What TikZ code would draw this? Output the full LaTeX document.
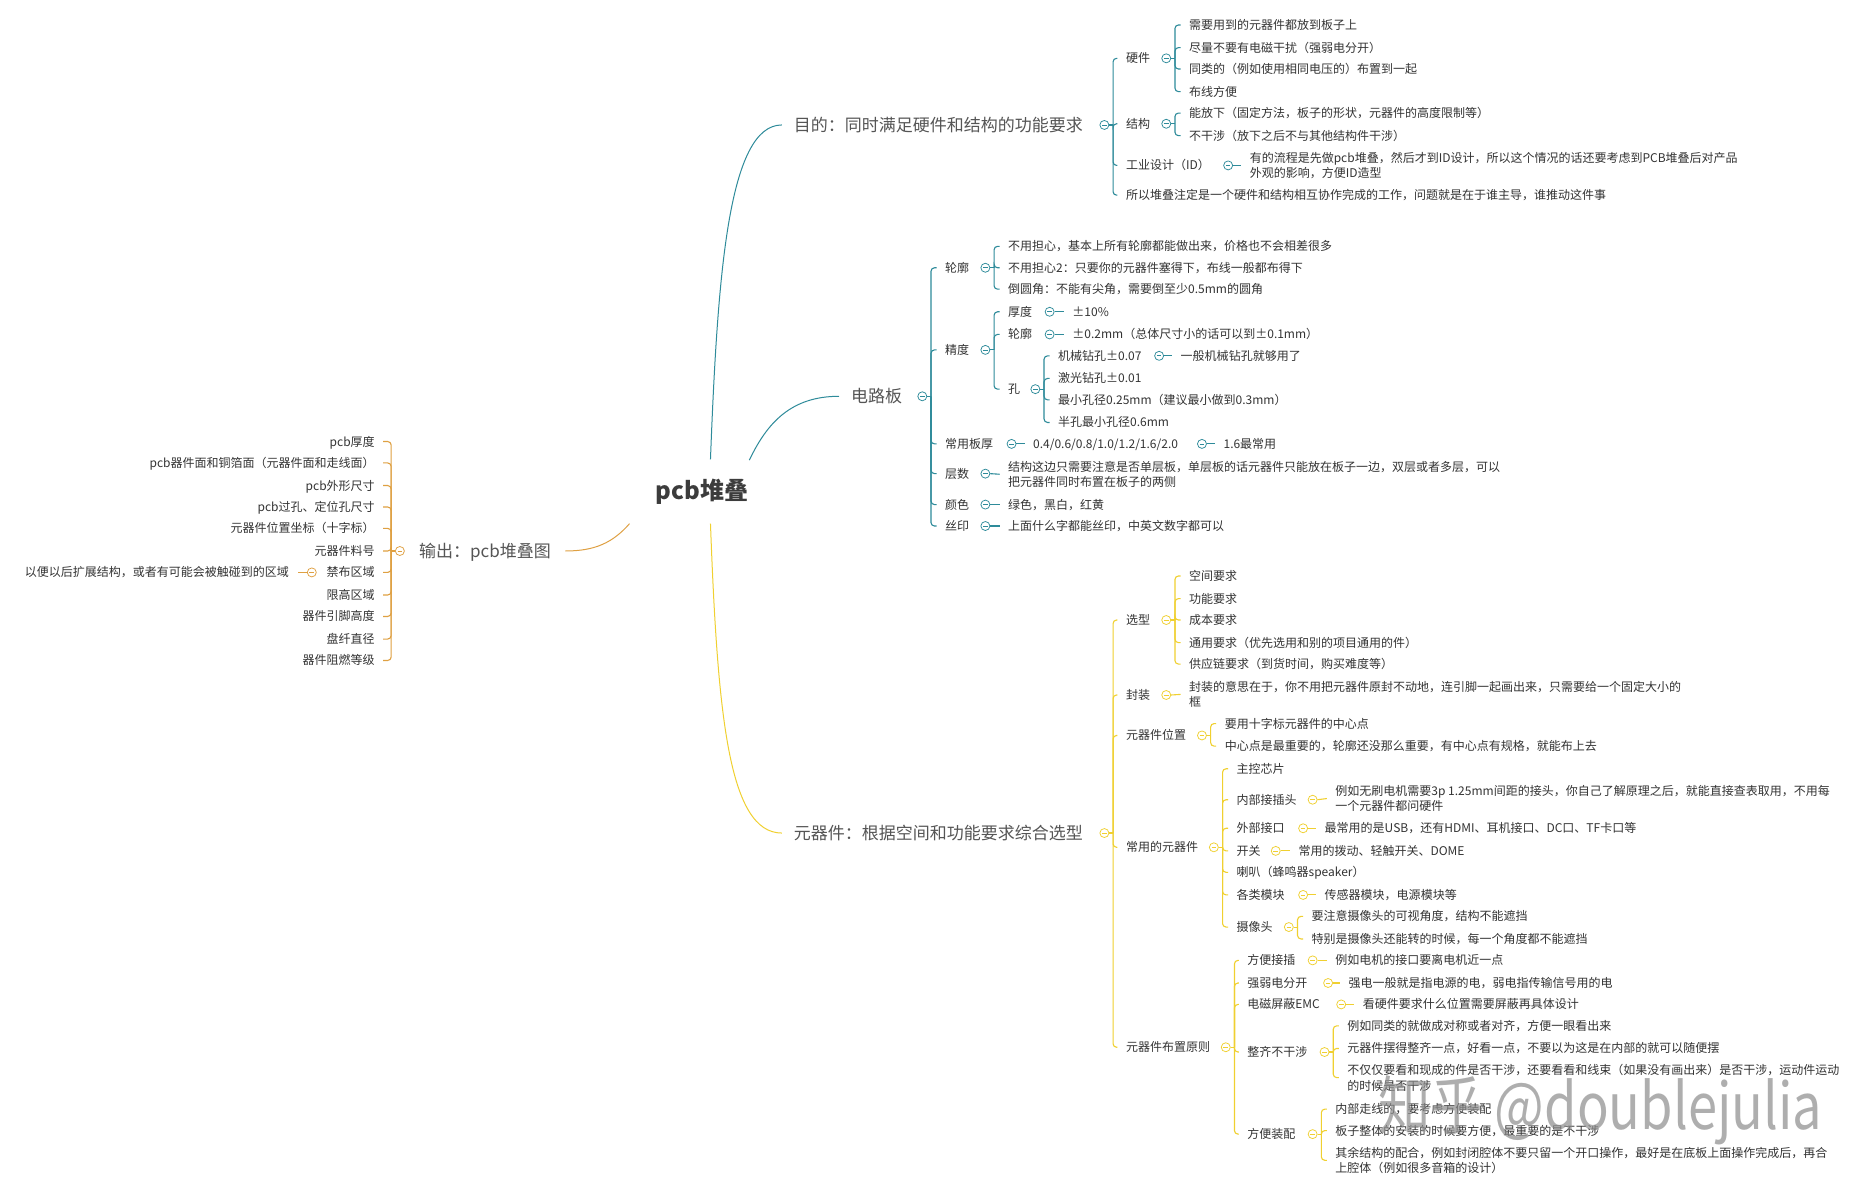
\documentclass[tikz,border=0pt]{standalone}
\usepackage{fontspec}
\setmainfont{Noto Sans CJK SC}
\usetikzlibrary{calc}
\definecolor{tealc}{HTML}{2E8B9A}
\definecolor{orgc}{HTML}{DFA042}
\definecolor{yelc}{HTML}{F0D030}
\definecolor{txtc}{HTML}{333333}
\definecolor{bigc}{HTML}{555555}
\definecolor{rootc}{HTML}{3C3C3C}
\tikzset{
  lf/.style={anchor=west, inner sep=0pt, text=txtc, font=\fontsize{12}{15.5}\selectfont, text height=10.5pt, text depth=1.5pt},
  ml/.style={anchor=west, inner sep=0pt, text=txtc, font=\fontsize{12}{15.5}\selectfont, align=left},
  lfr/.style={lf, anchor=east},
  big/.style={anchor=west, inner sep=0pt, text=bigc, font=\fontsize{17}{20}\selectfont, text height=15pt, text depth=2pt},
  col/.style={circle, draw=#1, fill=white, line width=0.75pt, minimum size=9pt, inner sep=0pt,
    path picture={\draw[#1, line width=0.75pt] ([xshift=-2.3pt]path picture bounding box.center) -- ([xshift=2.3pt]path picture bounding box.center);}},
  ln/.style={draw=#1, line width=1.1pt},
  cv/.style={draw=#1, line width=1pt},
}
\newcommand{\ckid}[3]{%
  \draw[ln=#1] (#2.east) -- ++(3.2,0);
  \draw[ln=#1, rounded corners=3.5pt] ($(#2.east)+(3.2,0)$) |- ($(#3.west)+(-7,0)$);}
\newcommand{\ckidl}[3]{%
  \draw[ln=#1] (#2.west) -- ++(-3.2,0);
  \draw[ln=#1, rounded corners=3.5pt] ($(#2.west)+(-3.2,0)$) |- ($(#3.east)+(7,0)$);}
\newcommand{\cone}[3]{\draw[ln=#1] (#2.east) -- ($(#3.west)+(-7,0)$);}
\newcommand{\conel}[3]{\draw[ln=#1] (#2.west) -- ($(#3.east)+(7,0)$);}
\begin{document}
\begin{tikzpicture}[x=1.19pt, y=-1.19pt]
\fill[white] (0,0) rectangle (1568,1004);
\useasboundingbox (0,0) rectangle (1568,1004);

% root
\node[font=\fontsize{24}{28}\selectfont\bfseries, text=rootc, inner sep=0pt] (root) at (590,413) {pcb堆叠};

% main labels
\node[big] (m1) at (667,105) {目的：同时满足硬件和结构的功能要求};
\node[big] (m2) at (715,333) {电路板};
\node[big, anchor=east] (m3) at (463,463) {输出：pcb堆叠图};
\node[big] (m4) at (667,700) {元器件：根据空间和功能要求综合选型};

\draw[cv=tealc] ($(root)+(7,-27)$) .. controls +(6,-156) and +(-45,0) .. ($(m1.west)+(-10,0)$);
\draw[cv=tealc] ($(root)+(39.7,-26.4)$) .. controls +(15,-31.6) and +(-40,0) .. ($(m2.west)+(-10,0)$);
\draw[cv=orgc] ($(root)+(-61,27)$) .. controls +(-14,16) and +(25,0) .. ($(m3.east)+(12,0)$);
\draw[cv=yelc] ($(root)+(7,27)$) .. controls +(6,160) and +(-45,0) .. ($(m4.west)+(-10,0)$);

% ===== branch 1: 目的 =====
\node[col=tealc] (c1) at (928,105) {};
\node[lf] (a1) at (946,49) {硬件};
\node[lf] (a2) at (946,104) {结构};
\node[lf] (a3) at (946,139) {工业设计（ID）};
\node[lf] (a4) at (946,164) {所以堆叠注定是一个硬件和结构相互协作完成的工作，问题就是在于谁主导，谁推动这件事};
\node[col=tealc] (ca1) at (980,49) {};
\node[lf] (a11) at (999,21) {需要用到的元器件都放到板子上};
\node[lf] (a12) at (999,40) {尽量不要有电磁干扰（强弱电分开）};
\node[lf] (a13) at (999,58) {同类的（例如使用相同电压的）布置到一起};
\node[lf] (a14) at (999,77) {布线方便};
\node[col=tealc] (ca2) at (980,104) {};
\node[lf] (a21) at (999,95) {能放下（固定方法，板子的形状，元器件的高度限制等）};
\node[lf] (a22) at (999,114) {不干涉（放下之后不与其他结构件干涉）};
\node[col=tealc] (ca3) at (1032,139) {};
\node[ml] (a31) at (1050,139) {有的流程是先做pcb堆叠，然后才到ID设计，所以这个情况的话还要考虑到PCB堆叠后对产品\\外观的影响，方便ID造型};
\foreach \k in {a1,a2,a3,a4} {\ckid{tealc}{c1}{\k}}
\foreach \k in {a11,a12,a13,a14} {\ckid{tealc}{ca1}{\k}}
\foreach \k in {a21,a22} {\ckid{tealc}{ca2}{\k}}
\cone{tealc}{ca3}{a31}

% ===== branch 2: 电路板 =====
\node[col=tealc] (c2) at (775,333) {};
\node[lf] (b1) at (794,225) {轮廓};
\node[lf] (b2) at (794,294) {精度};
\node[lf] (b3) at (794,373) {常用板厚};
\node[lf] (b4) at (794,398) {层数};
\node[lf] (b5) at (794,424) {颜色};
\node[lf] (b6) at (794,442) {丝印};
\node[col=tealc] (cb1) at (828,225) {};
\node[lf] (b11) at (847,207) {不用担心，基本上所有轮廓都能做出来，价格也不会相差很多};
\node[lf] (b12) at (847,225) {不用担心2：只要你的元器件塞得下，布线一般都布得下};
\node[lf] (b13) at (847,243) {倒圆角：不能有尖角，需要倒至少0.5mm的圆角};
\node[col=tealc] (cb2) at (828,294) {};
\node[lf] (b21) at (847,262) {厚度};
\node[lf] (b22) at (847,281) {轮廓};
\node[lf] (b23) at (847,327) {孔};
\node[col=tealc] (cb21) at (882,262) {};
\node[lf] (b211) at (901,262) {±10\%};
\node[col=tealc] (cb22) at (882,281) {};
\node[lf] (b221) at (901,281) {±0.2mm（总体尺寸小的话可以到±0.1mm）};
\node[col=tealc] (cb23) at (870,327) {};
\node[lf] (b231) at (889,299) {机械钻孔±0.07};
\node[lf] (b232) at (889,318) {激光钻孔±0.01};
\node[lf] (b233) at (889,336) {最小孔径0.25mm（建议最小做到0.3mm）};
\node[lf] (b234) at (889,355) {半孔最小孔径0.6mm};
\node[col=tealc] (cb231) at (974,299) {};
\node[lf] (b2311) at (992,299) {一般机械钻孔就够用了};
\node[col=tealc] (cb3) at (850,373) {};
\node[lf] (b31) at (868,373) {0.4/0.6/0.8/1.0/1.2/1.6/2.0};
\node[col=tealc] (cb31) at (1010,373) {};
\node[lf] (b311) at (1028,373) {1.6最常用};
\node[col=tealc] (cb4) at (828,398) {};
\node[ml] (b41) at (847,398.5) {结构这边只需要注意是否单层板，单层板的话元器件只能放在板子一边，双层或者多层，可以\\把元器件同时布置在板子的两侧};
\node[col=tealc] (cb5) at (828,424) {};
\node[lf] (b51) at (847,424) {绿色，黑白，红黄};
\node[col=tealc] (cb6) at (828,442) {};
\node[lf] (b61) at (847,442) {上面什么字都能丝印，中英文数字都可以};
\foreach \k in {b1,b2,b3,b4,b5,b6} {\ckid{tealc}{c2}{\k}}
\foreach \k in {b11,b12,b13} {\ckid{tealc}{cb1}{\k}}
\foreach \k in {b21,b22,b23} {\ckid{tealc}{cb2}{\k}}
\foreach \k in {b231,b232,b233,b234} {\ckid{tealc}{cb23}{\k}}
\cone{tealc}{cb21}{b211}
\cone{tealc}{cb22}{b221}
\cone{tealc}{cb231}{b2311}
\cone{tealc}{cb3}{b31}
\cone{tealc}{cb31}{b311}
\cone{tealc}{cb4}{b41}
\cone{tealc}{cb5}{b51}
\cone{tealc}{cb6}{b61}

% ===== branch 3: 输出 =====
\node[col=orgc] (c3) at (336,463) {};
\node[lfr] (o1) at (315,371) {pcb厚度};
\node[lfr] (o2) at (315,389) {pcb器件面和铜箔面（元器件面和走线面）};
\node[lfr] (o3) at (315,408) {pcb外形尺寸};
\node[lfr] (o4) at (315,426) {pcb过孔、定位孔尺寸};
\node[lfr] (o5) at (315,444) {元器件位置坐标（十字标）};
\node[lfr] (o6) at (315,463) {元器件料号};
\node[lfr] (o7) at (315,481) {禁布区域};
\node[lfr] (o8) at (315,500) {限高区域};
\node[lfr] (o9) at (315,518) {器件引脚高度};
\node[lfr] (o10) at (315,537) {盘纤直径};
\node[lfr] (o11) at (315,555) {器件阻燃等级};
\node[col=orgc] (co7) at (262,481) {};
\node[lfr] (o71) at (243,481) {以便以后扩展结构，或者有可能会被触碰到的区域};
\foreach \k in {o1,o2,o3,o4,o5,o6,o7,o8,o9,o10,o11} {\ckidl{orgc}{c3}{\k}}
\conel{orgc}{co7}{o71}

% ===== branch 4: 元器件 =====
\node[col=yelc] (c4) at (928,700) {};
\node[lf] (d1) at (946,521) {选型};
\node[lf] (d2) at (946,584) {封装};
\node[lf] (d3) at (946,618) {元器件位置};
\node[lf] (d4) at (946,712) {常用的元器件};
\node[lf] (d5) at (946,880) {元器件布置原则};
\node[col=yelc] (cd1) at (980,521) {};
\node[lf] (d11) at (999,484) {空间要求};
\node[lf] (d12) at (999,503) {功能要求};
\node[lf] (d13) at (999,521) {成本要求};
\node[lf] (d14) at (999,540) {通用要求（优先选用和别的项目通用的件）};
\node[lf] (d15) at (999,558) {供应链要求（到货时间，购买难度等）};
\node[col=yelc] (cd2) at (980,584) {};
\node[ml] (d21) at (999,583.5) {封装的意思在于，你不用把元器件原封不动地，连引脚一起画出来，只需要给一个固定大小的\\框};
\node[col=yelc] (cd3) at (1010,618) {};
\node[lf] (d31) at (1029,608) {要用十字标元器件的中心点};
\node[lf] (d32) at (1029,627) {中心点是最重要的，轮廓还没那么重要，有中心点有规格，就能布上去};
\node[col=yelc] (cd4) at (1020,712) {};
\node[lf] (d41) at (1039,646) {主控芯片};
\node[lf] (d42) at (1039,672) {内部接插头};
\node[lf] (d43) at (1039,696) {外部接口};
\node[lf] (d44) at (1039,715) {开关};
\node[lf] (d45) at (1039,733) {喇叭（蜂鸣器speaker）};
\node[lf] (d46) at (1039,752) {各类模块};
\node[lf] (d47) at (1039,779) {摄像头};
\node[col=yelc] (cd42) at (1103,672) {};
\node[ml] (d421) at (1122,671) {例如无刷电机需要3p 1.25mm间距的接头，你自己了解原理之后，就能直接查表取用，不用每\\一个元器件都问硬件};
\node[col=yelc] (cd43) at (1095,696) {};
\node[lf] (d431) at (1113,696) {最常用的是USB，还有HDMI、耳机接口、DC口、TF卡口等};
\node[col=yelc] (cd44) at (1072,715) {};
\node[lf] (d441) at (1091,715) {常用的拨动、轻触开关、DOME};
\node[col=yelc] (cd46) at (1095,752) {};
\node[lf] (d461) at (1113,752) {传感器模块，电源模块等};
\node[col=yelc] (cd47) at (1083,779) {};
\node[lf] (d471) at (1102,770) {要注意摄像头的可视角度，结构不能遮挡};
\node[lf] (d472) at (1102,789) {特别是摄像头还能转的时候，每一个角度都不能遮挡};
\node[col=yelc] (cd5) at (1030,880) {};
\node[lf] (d51) at (1048,807) {方便接插};
\node[lf] (d52) at (1048,826) {强弱电分开};
\node[lf] (d53) at (1048,844) {电磁屏蔽EMC};
\node[lf] (d54) at (1048,884) {整齐不干涉};
\node[lf] (d55) at (1048,953) {方便装配};
\node[col=yelc] (cd51) at (1103,807) {};
\node[lf] (d511) at (1122,807) {例如电机的接口要离电机近一点};
\node[col=yelc] (cd52) at (1116,826) {};
\node[lf] (d521) at (1133,826) {强电一般就是指电源的电，弱电指传输信号用的电};
\node[col=yelc] (cd53) at (1127,844) {};
\node[lf] (d531) at (1145,844) {看硬件要求什么位置需要屏蔽再具体设计};
\node[col=yelc] (cd54) at (1113,884) {};
\node[lf] (d541) at (1132,862) {例如同类的就做成对称或者对齐，方便一眼看出来};
\node[lf] (d542) at (1132,881) {元器件摆得整齐一点，好看一点，不要以为这是在内部的就可以随便摆};
\node[ml] (d543) at (1132,905.5) {不仅仅要看和现成的件是否干涉，还要看看和线束（如果没有画出来）是否干涉，运动件运动\\的时候是否干涉};
\node[col=yelc] (cd55) at (1103,953) {};
\node[lf] (d551) at (1122,932) {内部走线的，要考虑方便装配};
\node[lf] (d552) at (1122,950) {板子整体的安装的时候要方便，最重要的是不干涉};
\node[ml] (d553) at (1122,975) {其余结构的配合，例如封闭腔体不要只留一个开口操作，最好是在底板上面操作完成后，再合\\上腔体（例如很多音箱的设计）};
\foreach \k in {d1,d2,d3,d4,d5} {\ckid{yelc}{c4}{\k}}
\foreach \k in {d11,d12,d13,d14,d15} {\ckid{yelc}{cd1}{\k}}
\cone{yelc}{cd2}{d21}
\foreach \k in {d31,d32} {\ckid{yelc}{cd3}{\k}}
\foreach \k in {d41,d42,d43,d44,d45,d46,d47} {\ckid{yelc}{cd4}{\k}}
\cone{yelc}{cd42}{d421}
\cone{yelc}{cd43}{d431}
\cone{yelc}{cd44}{d441}
\cone{yelc}{cd46}{d461}
\foreach \k in {d471,d472} {\ckid{yelc}{cd47}{\k}}
\foreach \k in {d51,d52,d53,d54,d55} {\ckid{yelc}{cd5}{\k}}
\cone{yelc}{cd51}{d511}
\cone{yelc}{cd52}{d521}
\cone{yelc}{cd53}{d531}
\foreach \k in {d541,d542,d543} {\ckid{yelc}{cd54}{\k}}
\foreach \k in {d551,d552,d553} {\ckid{yelc}{cd55}{\k}}

% watermark
\node[anchor=west, inner sep=0pt, text=black!45, opacity=0.7, xscale=0.82, font=\fontsize{64}{68}\selectfont] (wm) at (1158,933) {知乎 @doublejulia};
\end{tikzpicture}
\end{document}
